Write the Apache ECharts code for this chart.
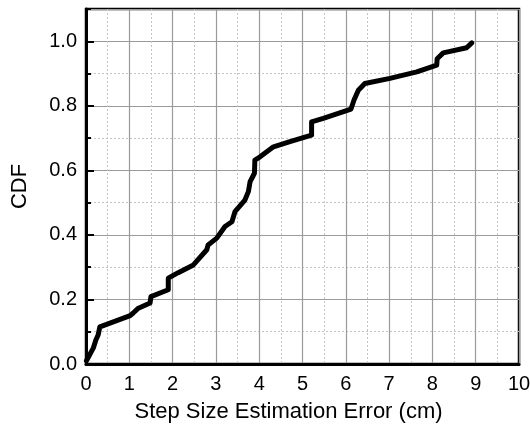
<!DOCTYPE html>
<html>
<head>
<meta charset="utf-8">
<script src="https://cdn.jsdelivr.net/npm/echarts@6/dist/echarts.min.js"></script>
<style>
  html, body { margin: 0; padding: 0; background: #fff; }
  #chart { width: 530px; height: 435px; }
</style>
</head>
<body>
<div id="chart"></div>
<script>
// step size estimation error (cm) vs. cumulative fraction
const errorCm = [0.01, 0.17, 0.23, 0.28, 0.32, 1.02, 1.09, 1.21, 1.48, 1.50, 1.90, 1.90, 2.13, 2.48,
  2.79, 2.82, 3.02, 3.21, 3.37, 3.44, 3.67, 3.75, 3.79, 3.89, 3.90, 4.02, 4.33, 4.71, 5.21, 5.21,
  5.48, 6.12, 6.19, 6.29, 6.44, 7.02, 7.64, 8.10, 8.11, 8.25, 8.79, 8.91]
const cdf = [0.01, 0.05, 0.075, 0.09, 0.115, 0.15, 0.158, 0.173, 0.189, 0.209, 0.23, 0.266, 0.283, 0.307,
  0.354, 0.369, 0.39, 0.426, 0.441, 0.472, 0.508, 0.534, 0.565, 0.591, 0.632, 0.642, 0.673, 0.689, 0.709, 0.75,
  0.761, 0.79, 0.818, 0.848, 0.869, 0.885, 0.905, 0.926, 0.946, 0.964, 0.98, 0.995]

const xRange = [0, 10]
const yRange = [0, 1.1]

const FONT = 'Liberation Sans, Arial, sans-serif'
const chart = echarts.init(document.getElementById('chart'))

// minor axes only give the dotted grid + short ticks, major axes carry labels
const minorStyle = { color: '#c4c4c4', type: [2, 2], width: 1 }
const majorStyle = { color: '#9a9a9a', width: 1.2 }

const option = {
  animation: false,
  backgroundColor: '#fff',
  grid: {
    left: 86, right: 11, top: 9, bottom: 71,
    outerBoundsMode: 'none',
    show: true, borderColor: '#000', borderWidth: 2.5, backgroundColor: 'transparent'
  },
  xAxis: [
    {
      type: 'value', position: 'bottom', min: xRange[0], max: xRange[1], interval: 0.5,
      axisLine: { show: false }, axisTick: { show: false }, axisLabel: { show: false },
      splitLine: { show: true, lineStyle: minorStyle }
    },
    {
      type: 'value', position: 'bottom', offset: 0, min: xRange[0], max: xRange[1], interval: 1,
      name: 'Step Size Estimation Error (cm)', nameLocation: 'middle', nameGap: 37,
      nameTextStyle: { fontFamily: FONT, fontSize: 22, color: '#000', padding: [0, 28, 0, 0] },
      axisLine: { show: true, onZero: false, lineStyle: { color: '#000', width: 3 } },
      axisTick: { show: false },
      axisLabel: { fontFamily: FONT, fontSize: 20, color: '#000', margin: 10 },
      splitLine: { show: true, lineStyle: majorStyle }
    }
  ],
  yAxis: [
    {
      type: 'value', position: 'left', min: yRange[0], max: yRange[1], interval: 0.1,
      axisLine: { show: false }, axisLabel: { show: false },
      axisTick: { show: true, inside: true, length: 5, lineStyle: { color: '#000', width: 2 } },
      splitLine: { show: true, lineStyle: minorStyle }
    },
    {
      type: 'value', position: 'left', offset: 0, min: yRange[0], max: yRange[1], interval: 0.2,
      name: 'CDF', nameLocation: 'middle', nameGap: 55,
      nameTextStyle: { fontFamily: FONT, fontSize: 22, color: '#000' },
      axisLine: { show: true, onZero: false, lineStyle: { color: '#000', width: 3 } },
      axisTick: { show: true, inside: true, length: 8, lineStyle: { color: '#000', width: 2 } },
      axisLabel: {
        fontFamily: FONT, fontSize: 20, color: '#000', margin: 9, showMaxLabel: false,
        formatter: v => v.toFixed(1)
      },
      splitLine: { show: true, lineStyle: majorStyle }
    }
  ],
  series: [
    {
      type: 'line',
      xAxisIndex: 1,
      yAxisIndex: 1,
      data: errorCm.map((x, i) => [x, cdf[i]]),
      showSymbol: false,
      smooth: false,
      z: 5,
      lineStyle: { color: '#000', width: 5, cap: 'round', join: 'round' }
    }
  ]
}

chart.setOption(option)
</script>
</body>
</html>
